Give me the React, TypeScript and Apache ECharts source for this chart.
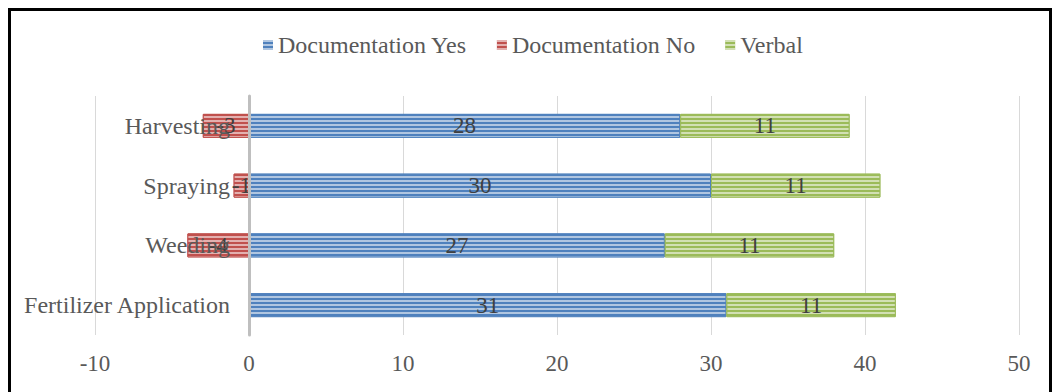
import React, { useEffect, useRef } from "react";
import * as echarts from "echarts";

const categories = ["Fertilizer Application", "Weeding", "Spraying", "Harvesting"];
const docYes = [31, 27, 30, 28];
const docNo: (number | null)[] = [null, -4, -1, -3];
const verbal = [11, 11, 11, 11];
const seriesNames = ["Documentation Yes", "Documentation No", "Verbal"];
const colors = ["#4F81BD", "#C0504D", "#9BBB59"];

const FONT = '"Liberation Serif", "Times New Roman", serif';

const decal = {
  symbol: "rect",
  symbolSize: 1,
  dashArrayX: [1, 0],
  dashArrayY: [2, 2],
  rotation: 0,
  color: "rgba(255,255,255,0.55)",
};

export default function App() {
  const ref = useRef<HTMLDivElement>(null);
  useEffect(() => {
    document.body.style.margin = "0";
    const chart = echarts.init(ref.current!, null, { renderer: "svg" });
    const label = {
      show: true,
      position: "inside",
      color: "#404040",
      fontFamily: FONT,
      fontSize: 23,
      formatter: (p: any) => (p.value == null ? "" : String(p.value)),
    };
    const mk = (name: string, data: (number | null)[], color: string) => ({
      name,
      type: "bar",
      stack: "total",
      data,
      barWidth: 24,
      itemStyle: { color, decal, borderColor: color, borderWidth: 1 },
      label,
    });
    chart.setOption({
      animation: false,
      backgroundColor: "#fff",
      legend: {
        data: seriesNames,
        left: 258,
        top: 28,
        icon: "rect",
        itemWidth: 10,
        itemHeight: 10,
        itemGap: 30,
        itemStyle: { borderWidth: 0 },
        textStyle: { fontFamily: FONT, fontSize: 24, color: "#595959" },
      },
      grid: {
        left: 95,
        right: 37,
        top: 96,
        bottom: 57,
        containLabel: false,
        outerBoundsMode: "none",
      },
      xAxis: {
        type: "value",
        min: -10,
        max: 50,
        interval: 10,
        axisLine: { show: false },
        axisTick: { show: false },
        splitLine: { show: true, lineStyle: { color: "#D9D9D9", width: 1 } },
        axisLabel: { fontFamily: FONT, fontSize: 23, color: "#595959", margin: 17 },
      },
      yAxis: {
        type: "category",
        data: categories,
        z: 10,
        axisLine: { show: true, onZero: true, lineStyle: { color: "#BFBFBF", width: 3 } },
        axisTick: { show: false },
        axisLabel: {
          fontFamily: FONT,
          fontSize: 24,
          color: "#595959",
          margin: -135,
          align: "right",
        },
      },
      series: [
        mk(seriesNames[0], docYes, colors[0]),
        mk(seriesNames[1], docNo, colors[1]),
        mk(seriesNames[2], verbal, colors[2]),
      ],
      graphic: [
        {
          type: "rect",
          shape: { x: 9.5, y: 9.5, width: 1041, height: 420 },
          style: { fill: "none", stroke: "#000", lineWidth: 3 },
          z: 100,
        },
      ],
    });
    return () => chart.dispose();
  }, []);
  return <div ref={ref} style={{ width: 1056, height: 392 }} />;
}
